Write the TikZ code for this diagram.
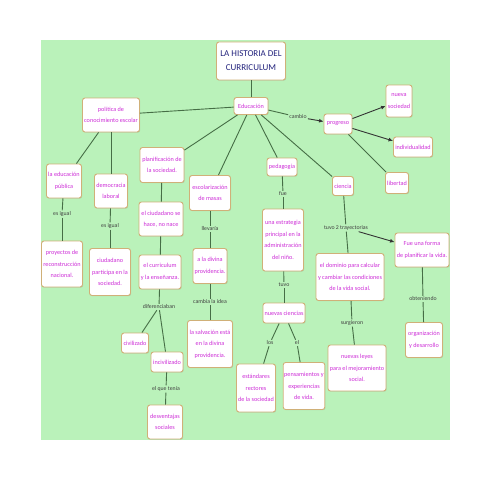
\documentclass[tikz,border=0pt]{standalone}
\usepackage{fontspec}
\setmainfont{Carlito}
\usetikzlibrary{arrows.meta,shadows}
\definecolor{bg}{RGB}{186,242,186}
\definecolor{tanb}{RGB}{208,176,120}
\definecolor{mag}{RGB}{205,45,215}
\definecolor{lnc}{RGB}{70,110,70}
\definecolor{navy}{RGB}{35,35,125}
\begin{document}
\begin{tikzpicture}[x=1pt,y=-1pt,
  box/.style={draw=tanb, fill=white, rounded corners=2.5pt, line width=0.9pt,
    text=mag, font=\fontsize{6.2}{11.5}\selectfont, align=center, inner sep=1pt,
    drop shadow={shadow xshift=0.7pt, shadow yshift=-0.7pt, opacity=0.25}},
  lbl/.style={fill=bg, text=black!75, font=\fontsize{5.8}{7}\selectfont, inner sep=1pt},
  conn/.style={draw=lnc, line width=0.9pt},
  arr/.style={draw=black!80, line width=0.9pt, -{Latex[length=4.5pt,width=4pt]}}]
\useasboundingbox (0,0) rectangle (495,495);
\fill[white] (0,0) rectangle (495,495);
\fill[bg] (41,40) rectangle (450,440);

% nodes
\node[box, text=navy, font=\fontsize{9}{14}\selectfont, minimum width=69, minimum height=38] (title) at (251,61) {LA HISTORIA DEL\\CURRICULUM};
\node[box, minimum width=34, minimum height=17] (edu) at (251,106) {Educación};
\node[box, minimum width=57, minimum height=34] (pol) at (111,115) {política de\\conocimiento escolar};
\node[box, minimum width=28, minimum height=20] (prog) at (338,124) {progreso};
\node[box, minimum width=26, minimum height=32] (nueva) at (399,101) {nueva\\sociedad};
\node[box, minimum width=39, minimum height=20] (indiv) at (413,147) {individualidad};
\node[box, minimum width=23, minimum height=21] (lib) at (397,183) {libertad};
\node[box, minimum width=35, minimum height=34] (pub) at (64,181) {la educación\\pública};
\node[box, minimum width=41, minimum height=46] (proy) at (62,264) {proyectos de\\reconstrucción\\nacional.};
\node[box, minimum width=33, minimum height=34] (dem) at (111,191) {democracia\\laboral};
\node[box, minimum width=41, minimum height=47] (ciud) at (110,272) {ciudadano\\participa en la\\sociedad.};
\node[box, minimum width=44, minimum height=35] (plan) at (162,165) {planificación de\\la sociedad.};
\node[box, minimum width=44, minimum height=34] (hace) at (161,219) {el ciudadano se\\hace, no nace};
\node[box, minimum width=42, minimum height=34] (curr) at (160,272) {el curriculum\\y la enseñanza.};
\node[box, minimum width=27, minimum height=20] (civ) at (135,343) {civilizado};
\node[box, minimum width=32, minimum height=20] (inciv) at (167,362) {incivilizado};
\node[box, minimum width=35, minimum height=34] (desv) at (165,422) {desventajas\\sociales};
\node[box, minimum width=41, minimum height=35] (esc) at (210,193) {escolarización\\de masas};
\node[box, minimum width=34, minimum height=35] (div) at (210,266) {a la divina\\providencia.};
\node[box, minimum width=45, minimum height=47] (salv) at (210,344) {la salvación está\\en la divina\\providencia.};
\node[box, minimum width=30, minimum height=18] (ped) at (282,167) {pedagogía};
\node[box, minimum width=41, minimum height=62] (estr) at (283,240) {una estrategia\\principal en la\\administración\\del niño.};
\node[box, minimum width=42, minimum height=20] (nuev) at (284,313) {nuevas ciencias};
\node[box, minimum width=39, minimum height=48] (est) at (256,388) {estándares\\rectores\\de la sociedad};
\node[box, minimum width=41, minimum height=47] (pens) at (304,386) {pensamientos y\\experiencias\\de vida.};
\node[box, minimum width=21, minimum height=19] (cien) at (343,186) {ciencia};
\node[box, minimum width=68, minimum height=47] (dom) at (350,277) {el dominio para calcular\\y cambiar las condiciones\\de la vida social.};
\node[box, minimum width=54, minimum height=34] (forma) at (422,250) {Fue una forma\\de planificar la vida.};
\node[box, minimum width=37, minimum height=35] (org) at (424,340) {organización\\y desarrollo};
\node[box, minimum width=58, minimum height=46] (leyes) at (357,368) {nuevas leyes\\para el mejoramiento\\social.};

% labels
\node[lbl] (lcamb) at (298,117) {cambio};
\node[lbl] (lig1) at (62,214) {es igual};
\node[lbl] (lig2) at (110,226) {es igual};
\node[lbl] (ldif) at (159,307) {diferenciaban};
\node[lbl] (lten) at (166,389) {el que tenía};
\node[lbl] (llev) at (210,229) {llevaría};
\node[lbl] (lidea) at (210,302) {cambia la idea};
\node[lbl] (lfue) at (283,194) {fue};
\node[lbl] (ltuvo) at (284,285) {tuvo};
\node[lbl] (llos) at (270,343) {los};
\node[lbl] (lel) at (297,343) {el};
\node[lbl] (ltray) at (346,228) {tuvo 2 trayectorias};
\node[lbl] (lobt) at (423,299) {obteniendo};
\node[lbl] (lsurg) at (352,323) {surgieron};

% connectors
\draw[conn] (title) -- (edu);
\draw[conn] (edu) -- (pol);
\draw[conn] (edu) -- (lcamb);
\draw[arr] (lcamb) -- (prog);
\draw[arr] (prog) -- (nueva);
\draw[arr] (prog) -- (indiv);
\draw[conn] (prog) -- (lib);
\draw[conn] (pol) -- (pub);
\draw[conn] (pub) -- (lig1);
\draw[conn] (lig1) -- (proy);
\draw[conn] (pol) -- (dem);
\draw[conn] (dem) -- (lig2);
\draw[conn] (lig2) -- (ciud);
\draw[conn] (edu) -- (plan);
\draw[conn] (plan) -- (hace);
\draw[conn] (hace) -- (curr);
\draw[conn] (curr) -- (ldif);
\draw[conn] (ldif) -- (civ);
\draw[conn] (ldif) -- (inciv);
\draw[conn] (inciv) -- (lten);
\draw[conn] (lten) -- (desv);
\draw[conn] (edu) -- (esc);
\draw[conn] (esc) -- (llev);
\draw[conn] (llev) -- (div);
\draw[conn] (div) -- (lidea);
\draw[conn] (lidea) -- (salv);
\draw[conn] (edu) -- (ped);
\draw[conn] (ped) -- (lfue);
\draw[conn] (lfue) -- (estr);
\draw[conn] (estr) -- (ltuvo);
\draw[conn] (ltuvo) -- (nuev);
\draw[conn] (nuev) -- (llos);
\draw[conn] (llos) -- (est);
\draw[conn] (nuev) -- (lel);
\draw[conn] (lel) -- (pens);
\draw[conn] (edu) -- (cien);
\draw[conn] (cien) -- (ltray);
\draw[conn] (ltray) -- (dom);
\draw[arr] (ltray) -- (forma);
\draw[conn] (forma) -- (lobt);
\draw[conn] (lobt) -- (org);
\draw[conn] (dom) -- (lsurg);
\draw[conn] (lsurg) -- (leyes);
\end{tikzpicture}
\end{document}
